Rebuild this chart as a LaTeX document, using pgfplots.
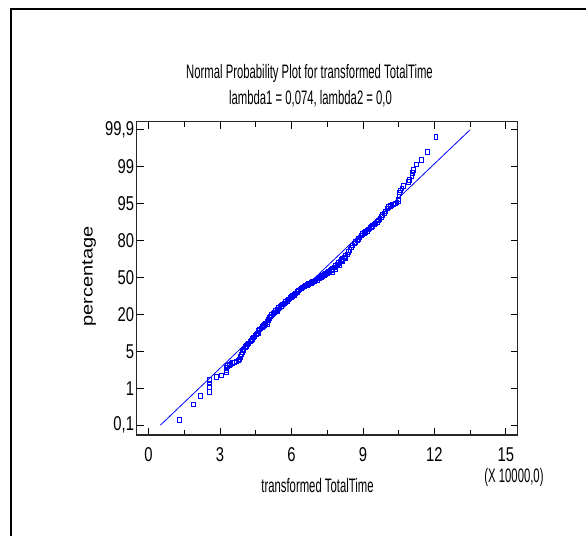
\documentclass[border=0pt]{standalone}
\usepackage{pgfplots}
\pgfplotsset{compat=1.18}
\usepackage{fontspec}
\setmainfont{Liberation Sans}
\newfontfamily\ttl{Liberation Sans}[FakeStretch=0.58]
\newfontfamily\tck{Liberation Sans}[FakeStretch=0.74]
\newfontfamily\ylab{Liberation Sans}[FakeStretch=1.25]
\pgfplotstableread{
x y
1.29 0.14
1.89 0.56
2.18 0.79
2.56 0.90
2.56 1.04
2.56 1.13
2.56 1.22
2.85 1.30
3.05 1.35
3.25 1.43
3.25 1.50
3.27 1.56
3.30 1.60
3.38 1.63
3.45 1.66
3.52 1.68
3.60 1.70
3.68 1.73
3.76 1.75
3.82 1.78
3.86 1.85
3.88 1.92
3.92 1.99
3.97 2.04
4.00 2.07
4.05 2.12
4.10 2.15
4.15 2.19
4.20 2.22
4.26 2.27
4.31 2.30
4.36 2.34
4.41 2.38
4.46 2.42
4.51 2.46
4.56 2.49
4.60 2.50
4.61 2.55
4.66 2.59
4.71 2.62
4.76 2.66
4.81 2.69
4.86 2.72
4.91 2.76
4.97 2.80
5.00 2.75
5.02 2.85
5.07 2.90
5.12 2.95
5.17 2.99
5.22 3.03
5.27 3.06
5.33 3.09
5.39 3.13
5.40 3.08
5.45 3.17
5.51 3.20
5.57 3.23
5.63 3.27
5.69 3.30
5.75 3.34
5.81 3.37
5.87 3.41
5.93 3.44
5.99 3.47
6.05 3.50
6.11 3.53
6.17 3.57
6.23 3.61
6.29 3.65
6.35 3.68
6.41 3.71
6.47 3.73
6.53 3.76
6.59 3.78
6.65 3.80
6.71 3.82
6.77 3.84
6.83 3.86
6.89 3.88
6.95 3.90
7.01 3.92
7.07 3.94
7.13 3.97
7.19 3.99
7.25 4.02
7.31 4.04
7.37 4.07
7.43 4.10
7.49 4.12
7.55 4.15
7.61 4.18
7.67 4.21
7.70 4.15
7.73 4.24
7.79 4.27
7.85 4.31
7.85 4.22
7.91 4.35
7.97 4.39
8.00 4.33
8.03 4.43
8.09 4.47
8.15 4.51
8.15 4.45
8.21 4.55
8.25 4.52
8.27 4.59
8.33 4.63
8.39 4.69
8.45 4.75
8.51 4.81
8.57 4.87
8.63 4.92
8.69 4.96
8.75 5.01
8.81 5.05
8.87 5.09
8.93 5.14
8.99 5.18
9.05 5.21
9.11 5.24
9.17 5.27
9.23 5.30
9.29 5.34
9.35 5.37
9.41 5.40
9.47 5.44
9.53 5.47
9.59 5.51
9.65 5.55
9.71 5.59
9.77 5.64
9.83 5.69
9.89 5.74
9.95 5.79
10.01 5.87
10.07 5.91
10.14 5.94
10.21 5.96
10.28 5.98
10.35 6.01
10.42 6.04
10.48 6.07
10.50 6.12
10.51 6.20
10.53 6.30
10.56 6.36
10.63 6.41
10.70 6.48
10.91 6.59
10.95 6.64
11.05 6.76
11.09 6.84
11.12 6.91
11.23 7.07
11.44 7.18
11.71 7.41
12.06 7.81
}\pts
\begin{document}
\begin{tikzpicture}[x=1bp,y=1bp]
\useasboundingbox (0,0) rectangle (586,536);
% outer frame
\draw[line width=2bp] (11,-10) -- (11,527) -- (600,527);
\begin{axis}[
  at={(136.7bp,101bp)}, anchor=south west,
  scale only axis, width=381bp, height=313.3bp,
  xmin=-0.5, xmax=15.5, ymin=-0.27, ymax=8.22,
  xtick={0,3,...,15}, minor xtick={1.5,4.5,...,13.5},
  ytick={0,1,2,3,4,5,6,7,8},
  yticklabels={{0,1},1,5,20,50,80,95,99,{99,9}},
  tick align=inside, major tick length=7bp, minor tick length=5bp,
  axis line style={line width=1.4bp, black!85},
  every tick/.style={black, line width=0.8bp},
  /pgf/number format/assume math mode=true,
  ticklabel style={font=\tck\fontsize{20bp}{22bp}\selectfont},
  xticklabel style={anchor=base, yshift=-27bp},
  yticklabel style={inner xsep=2.5bp},
]
\addplot[blue, line width=0.8bp] coordinates {(0.5,0) (13.5,8)};
\addplot[only marks, blue, mark=square, mark size=1.9bp,
  mark options={line width=0.65bp, yscale=1.2}] table[x=x,y=y] {\pts};
\end{axis}
\node[anchor=base, font=\ttl\fontsize{19.5bp}{22bp}\selectfont] at (309.5,457) {Normal Probability Plot for transformed TotalTime};
\node[anchor=base, font=\ttl\fontsize{19.5bp}{22bp}\selectfont] at (310.5,431) {lambda1 = 0,074, lambda2 = 0,0};
\node[anchor=base, font=\ttl\fontsize{19.5bp}{22bp}\selectfont] at (317.5,43) {transformed TotalTime};
\node[anchor=base, font=\ttl\fontsize{19.5bp}{22bp}\selectfont] at (514,53) {(X 10000,0)};
\node[rotate=90, font=\ylab\fontsize{16bp}{18bp}\selectfont] at (89,259.5) {percentage};
\end{tikzpicture}
\end{document}
